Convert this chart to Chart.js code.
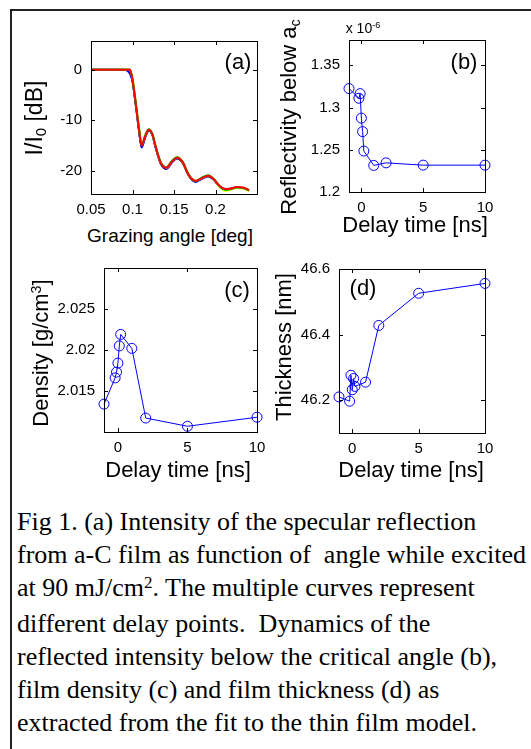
<!DOCTYPE html>
<html>
<head>
<meta charset="utf-8">
<script src="https://cdn.jsdelivr.net/npm/chart.js@4.4.1/dist/chart.umd.min.js"></script>
<style>
  html, body { margin: 0; padding: 0; background: #fff; }
  body { width: 531px; height: 749px; position: relative; overflow: hidden; font-family: "Liberation Sans", Arial, sans-serif; color: #000; }
  .frame { position: absolute; left: 10px; top: 9px; width: 700px; height: 900px; border-top: 2px solid #222; border-left: 2px solid #222; }
  canvas { position: absolute; }
  .lbl { position: absolute; white-space: nowrap; line-height: 1; transform: translate(-50%, -50%); }
  .rot { transform: translate(-50%, -50%) rotate(-90deg); }
  .ax { font-size: 22px; }
  .sub { font-size: 0.65em; position: relative; top: 0.3em; }
  .sup { font-size: 0.65em; position: relative; top: -0.5em; }
  .caption { position: absolute; left: 17px; top: 505px; font-family: "Liberation Serif", "Times New Roman", serif; font-size: 26px; line-height: 33px; white-space: nowrap; }
</style>
</head>
<body>
<div class="frame"></div>

<canvas id="chartA"></canvas>
<canvas id="chartB"></canvas>
<canvas id="chartC"></canvas>
<canvas id="chartD"></canvas>

<!-- axis titles and panel letters -->
<div class="lbl rot" style="left:34px; top:118px; font-size:23px;">I/I<span class="sub">0</span> [dB]</div>
<div class="lbl" style="left:170px; top:235px; font-size:19px;">Grazing angle [deg]</div>
<div class="lbl" style="left:238px; top:62px; font-size:22px;">(a)</div>

<div class="lbl rot ax" style="left:289px; top:117px;">Reflectivity below a<span class="sub">c</span></div>
<div class="lbl ax" style="left:415px; top:225px;">Delay time [ns]</div>
<div class="lbl" style="left:464px; top:62px; font-size:22px;">(b)</div>
<div class="lbl" style="left:363px; top:28px; font-size:14px;">x 10<span class="sup">-6</span></div>

<div class="lbl rot ax" style="left:41px; top:353px;">Density [g/cm<span class="sup">3</span>]</div>
<div class="lbl ax" style="left:178px; top:470px;">Delay time [ns]</div>
<div class="lbl" style="left:237px; top:290px; font-size:22px;">(c)</div>

<div class="lbl rot ax" style="left:284px; top:347px;">Thickness [nm]</div>
<div class="lbl ax" style="left:411px; top:470px;">Delay time [ns]</div>
<div class="lbl" style="left:363px; top:288px; font-size:22px;">(d)</div>

<div class="caption">
Fig 1. (a) Intensity of the specular reflection<br>
from a-C film as function of&nbsp; angle while excited<br>
at 90 mJ/cm<span class="sup">2</span>. The multiple curves represent<br>
different delay points.&nbsp; Dynamics of the<br>
reflected intensity below the critical angle (b),<br>
film density (c) and film thickness (d) as<br>
extracted from the fit to the thin film model.
</div>

<script>
// Panel (a): specular reflection vs grazing angle, several delay curves
const angle = [0.05, 0.07, 0.09, 0.097, 0.1, 0.104, 0.108, 0.111, 0.115, 0.1195, 0.124, 0.1275, 0.134, 0.1408,
  0.147, 0.1537, 0.16, 0.168, 0.1759, 0.183, 0.1912, 0.198, 0.205, 0.2122, 0.219, 0.2255, 0.233, 0.2404];
const dbRed    = [0, 0, 0, 0, -2.0, -6.8, -12.0, -15.0, -13.3, -11.9, -12.8, -15.0, -18.4, -19.4,
  -18.3, -17.4, -18.2, -20.9, -22.0, -21.5, -21.0, -21.7, -23.0, -23.6, -23.5, -23.2, -23.3, -23.8];
const dbGreen  = [0, 0, 0, 0, -1.8, -6.6, -11.8, -14.9, -13.1, -11.8, -12.7, -14.9, -18.3, -19.3,
  -18.1, -17.3, -18.1, -20.8, -22.1, -21.4, -20.9, -21.6, -23.1, -23.8, -23.6, -23.3, -23.4, -23.9];
const dbBlue   = [0, 0, 0, -0.8, -2.3, -7.0, -12.3, -15.4, -13.5, -12.0, -12.9, -15.2, -18.5, -19.6,
  -18.4, -17.5, -18.3, -21.0, -22.2, -21.6, -21.1, -21.8, -23.1, -23.7, -23.5, -23.3, -23.4, -23.9];
const dbYellow = [0, 0, 0, 0, -1.7, -6.5, -11.7, -14.8, -13.2, -11.9, -12.8, -14.9, -18.3, -19.4,
  -18.2, -17.3, -18.2, -20.9, -22.0, -21.5, -21.0, -21.7, -23.2, -24.0, -23.7, -23.4, -23.5, -24.0];
const dbBlack  = [0, 0, 0, 0, -2.1, -6.9, -12.1, -15.2, -13.4, -12.0, -12.9, -15.1, -18.5, -19.6,
  -18.4, -17.5, -18.3, -21.0, -22.1, -21.6, -21.1, -21.8, -23.1, -23.7, -23.6, -23.3, -23.4, -23.9];

// Panels (b)-(d): fit results vs delay time
const delay = [-1, -0.2, -0.1, 0, 0.1, 0.2, 1, 2, 5, 10];
const reflectivity = [1.3225, 1.311, 1.3165, 1.2875, 1.2715, 1.2485, 1.2315, 1.2345, 1.2318, 1.2318]; // x 1e-6
const density = [2.0134, 2.0166, 2.0173, 2.0184, 2.0205, 2.0219, 2.0202, 2.0117, 2.0107, 2.0118];
const thickness = [46.21, 46.197, 46.276, 46.232, 46.266, 46.242, 46.255, 46.428, 46.526, 46.556];

// Tick labels
const angleTicks = [0.05, 0.1, 0.15, 0.2];
const dbTicks = [-20, -10, 0];
const delayTicks = [0, 5, 10];
const reflTicks = [1.2, 1.25, 1.3, 1.35];
const densTicks = [2.015, 2.02, 2.025];
const thickTicks = [46.2, 46.4, 46.6];

// Layout around each plot box
const AXIS_W = 60, AXIS_H = 30, PAD_T = 12, PAD_R = 14;
const tickFont = { family: '"Liberation Sans", Arial, sans-serif', size: 15 };

// Draw box and inward tick marks (matlab style)
const frameTicks = {
  id: 'frameTicks',
  afterDraw(chart) {
    const { ctx, chartArea: a, scales } = chart;
    const len = 4;
    ctx.save();
    ctx.strokeStyle = '#000';
    ctx.lineWidth = 1;
    ctx.strokeRect(Math.round(a.left) + 0.5, Math.round(a.top) + 0.5,
      Math.round(a.right - a.left), Math.round(a.bottom - a.top));
    ctx.beginPath();
    scales.x.ticks.forEach(t => {
      const px = Math.round(scales.x.getPixelForValue(t.value)) + 0.5;
      ctx.moveTo(px, a.bottom); ctx.lineTo(px, a.bottom - len);
      ctx.moveTo(px, a.top); ctx.lineTo(px, a.top + len);
    });
    scales.y.ticks.forEach(t => {
      const py = Math.round(scales.y.getPixelForValue(t.value)) + 0.5;
      ctx.moveTo(a.left, py); ctx.lineTo(a.left + len, py);
      ctx.moveTo(a.right, py); ctx.lineTo(a.right - len, py);
    });
    ctx.stroke();
    ctx.restore();
  }
};

function fmt(v) {
  return String(+Number(v).toFixed(4));
}

function axis(min, max, ticks, horizontal) {
  return {
    type: 'linear',
    min: min,
    max: max,
    grid: { display: false, drawTicks: false },
    border: { display: false },
    ticks: { font: tickFont, color: '#000', padding: horizontal ? 7 : 9, callback: fmt },
    afterBuildTicks: s => { s.ticks = ticks.map(v => ({ value: v })); },
    afterFit: s => {
      if (horizontal) {
        s.height = AXIS_H; s.paddingLeft = 0; s.paddingRight = 0;
      } else {
        s.width = AXIS_W; s.paddingTop = 0; s.paddingBottom = 0;
      }
    }
  };
}

function makePanel(id, box, datasets, xAxis, yAxis) {
  const canvas = document.getElementById(id);
  const w = box.r - box.l, h = box.b - box.t;
  canvas.width = AXIS_W + w + PAD_R;
  canvas.height = PAD_T + h + AXIS_H;
  canvas.style.left = (box.l - AXIS_W) + 'px';
  canvas.style.top = (box.t - PAD_T) + 'px';
  return new Chart(canvas, {
    type: 'line',
    data: { datasets: datasets },
    options: {
      responsive: false,
      animation: false,
      layout: { padding: { top: PAD_T, right: PAD_R, left: 0, bottom: 0 } },
      plugins: { legend: { display: false }, tooltip: { enabled: false } },
      scales: { x: xAxis, y: yAxis }
    },
    plugins: [frameTicks]
  });
}

function curve(ys, color) {
  return {
    data: angle.map((x, i) => ({ x: x, y: ys[i] })),
    borderColor: color,
    borderWidth: 2,
    pointRadius: 0,
    cubicInterpolationMode: 'monotone',
    fill: false
  };
}

function markers(ys) {
  return {
    data: delay.map((x, i) => ({ x: x, y: ys[i] })),
    borderColor: '#0000ff',
    borderWidth: 1,
    pointRadius: 5,
    pointBorderWidth: 1,
    pointBorderColor: '#0000ff',
    pointBackgroundColor: 'rgba(0,0,0,0)',
    tension: 0,
    clip: false,
    fill: false
  };
}

document.addEventListener('DOMContentLoaded', function() {
  // first dataset is drawn on top, so red goes first
  makePanel('chartA', { l: 91, t: 41, r: 257, b: 194 }, [
    curve(dbRed, '#ff0000'),
    curve(dbGreen, '#00c000'),
    curve(dbYellow, '#ffff00'),
    curve(dbBlue, '#0000ff'),
    curve(dbBlack, '#000000')
  ], axis(0.05, 0.25, angleTicks, true), axis(-24.6, 5.7, dbTicks, false));

  makePanel('chartB', { l: 349, t: 40, r: 485, b: 192 }, [markers(reflectivity)],
    axis(-1, 10, delayTicks, true), axis(1.2, 1.38, reflTicks, false));

  makePanel('chartC', { l: 104, t: 268, r: 257, b: 432 }, [markers(density)],
    axis(-1, 10, delayTicks, true), axis(2.01, 2.03, densTicks, false));

  makePanel('chartD', { l: 339, t: 269, r: 485, b: 433 }, [markers(thickness)],
    axis(-1, 10, delayTicks, true), axis(46.1, 46.6, thickTicks, false));
});
</script>
</body>
</html>
